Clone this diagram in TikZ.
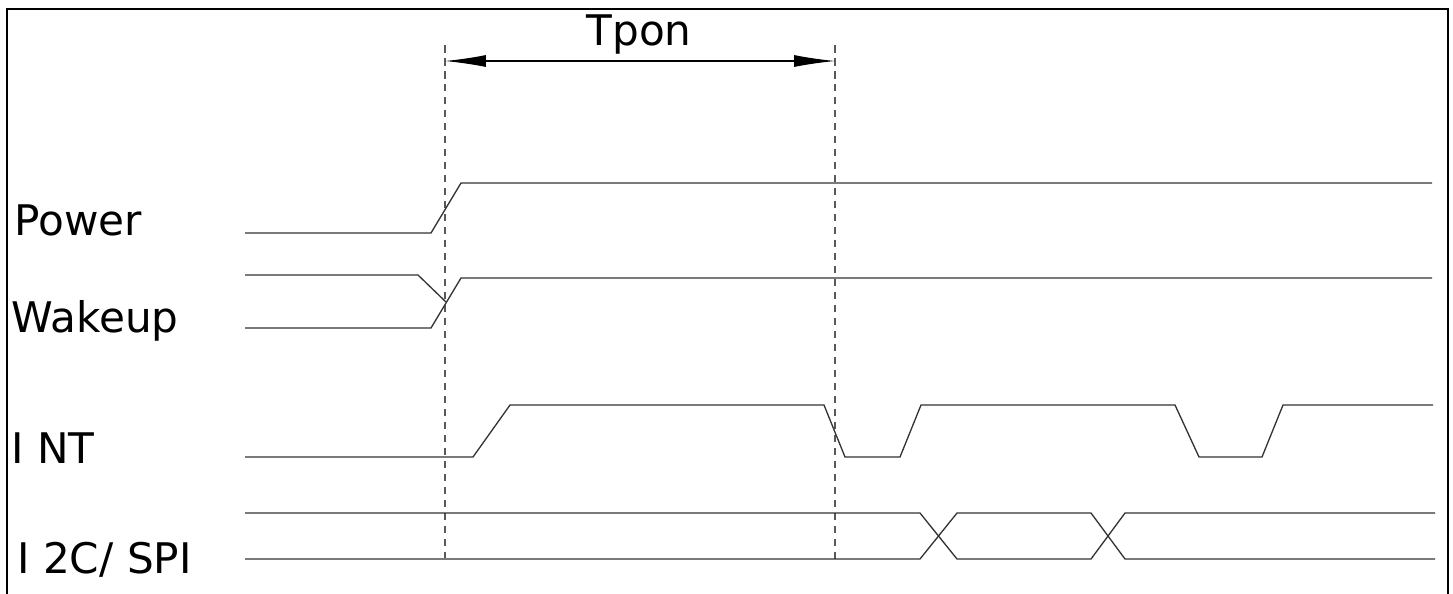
\documentclass[tikz,border=0pt]{standalone}
\usepackage{fontspec}
\setmainfont{DejaVu Sans}
\usetikzlibrary{arrows.meta,positioning}

\begin{document}
\begin{tikzpicture}[
                x=0.02cm, y=-0.02cm,
                wave/.style={line width=0.75pt, black!80},
                marker/.style={line width=0.7pt, gray!70!black, dash pattern=on 0.15cm off 0.11cm},
                sig/.style={anchor=base west, inner sep=0pt, font=\fontsize{24}{28}\selectfont},
                dim/.style={line width=0.6pt, {Latex[length=0.82cm,width=0.24cm]}-{Latex[length=0.82cm,width=0.24cm]}}]
            \useasboundingbox (0,0) rectangle (1453,593);
            \clip (0,0) rectangle (1453,593);
            \draw[line width=1.1pt] (7,9) rectangle (1448,640);
            % signal names
            \node[sig] (power) at (14,235) {Power};
            \node[sig] (wakeup) at (11,332) {Wakeup};
            \node[sig] (int) at (11,463) {I NT};
            \node[sig] (bus) at (17,573) {I 2C/ SPI};
            % Tpon markers
            \coordinate (t_on) at (445,61);
            \coordinate (t_ready) at (835,61);
            \draw[marker] (445,45) -- (445,558);
            \draw[marker] (835,45) -- (835,560);
            \draw[dim] (t_on) -- (t_ready);
            \node[inner sep=0pt, anchor=base, font=\fontsize{24}{28}\selectfont] (tpon) at (639,45) {Tpon};
            % waveforms
            \draw[wave] (245,233) -- (431,233) -- (461,183) -- (1432,183);
            \draw[wave] (245,275) -- (418,275) -- (446,302);
            \draw[wave] (245,328) -- (431,328) -- (461,278) -- (1432,278);
            \draw[wave] (245,457) -- (473,457) -- (510,405) -- (824,405) -- (845,457)
                -- (900,457) -- (921,405) -- (1175,405) -- (1199,457) -- (1262,457)
                -- (1283,405) -- (1433,405);
            \draw[wave] (245,513) -- (920,513) -- (957,559) -- (1091,559) -- (1125,513) -- (1435,513);
            \draw[wave] (245,559) -- (920,559) -- (957,513) -- (1091,513) -- (1125,559) -- (1435,559);
        \end{tikzpicture}
\end{document}
